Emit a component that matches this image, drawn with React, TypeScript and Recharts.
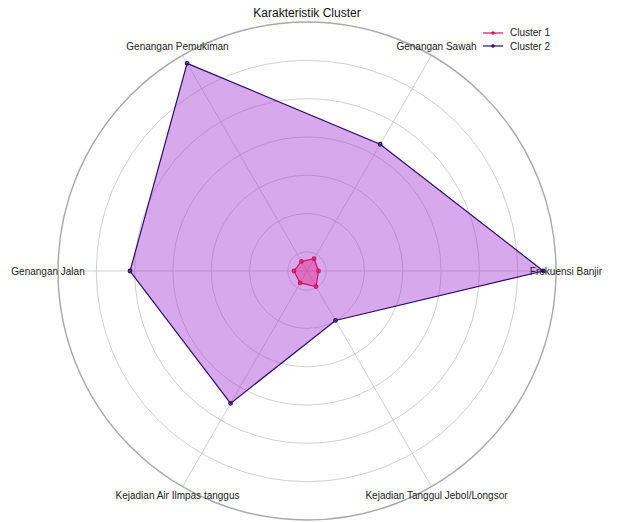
import { Legend, PolarAngleAxis, PolarGrid, PolarRadiusAxis, Radar, RadarChart } from "recharts";

const categories = [
  "Frekuensi Banjir",
  "Genangan Sawah",
  "Genangan Pemukiman",
  "Genangan Jalan",
  "Kejadian Air Ilmpas tanggus",
  "Kejadian Tanggul Jebol/Longsor",
];
const cluster1 = [-0.2, -0.13, -0.21, -0.16, -0.14, -0.03];
const cluster2 = [5.67, 3.32, 5.76, 4.12, 3.49, 0.99];
const radiusTicks = [0, 1, 2, 3, 4, 5];

const data = categories.map((name, i) => ({ name, c1: cluster1[i], c2: cluster2[i] }));

const CX = 307;
const CY = 271;
const R = 249;
const FONT = "'Liberation Sans', Arial, sans-serif";

const C1 = "#d4145f";
const C2 = "#2d0b6e";

// label sits just outside the ring, centred on its spoke (same angle as the radar vertex)
function AngleTick(props: any) {
  const { payload } = props;
  const idx = categories.indexOf(payload.value);
  const a = ((360 / categories.length) * idx * Math.PI) / 180;
  const x = CX + (R + 10) * Math.cos(a);
  const y = CY - (R + 10) * Math.sin(a);
  return (
    <text x={x} y={y} textAnchor="middle" dominantBaseline="central" fontSize={10} fontFamily={FONT} fill="#222">
      {payload.value}
    </text>
  );
}

function LegendBox() {
  const items = [
    { label: "Cluster 1", color: C1 },
    { label: "Cluster 2", color: C2 },
  ];
  return (
    <div style={{ fontFamily: FONT, fontSize: 10, color: "#222" }}>
      {items.map((it) => (
        <div key={it.label} style={{ display: "flex", alignItems: "center", height: 13.4 }}>
          <svg width={20} height={6} style={{ marginRight: 7 }}>
            <line x1={0} y1={3} x2={20} y2={3} stroke={it.color} strokeWidth={1.2} />
            <circle cx={10} cy={3} r={1.8} fill={it.color} />
          </svg>
          <span>{it.label}</span>
        </div>
      ))}
    </div>
  );
}

export default function App() {
  return (
    <div style={{ position: "absolute", left: 0, top: 0, width: 617, height: 522, background: "#fff" }}>
      <div
        style={{
          position: "absolute",
          left: 0,
          width: 614,
          top: 6,
          textAlign: "center",
          fontFamily: FONT,
          fontSize: 12,
          color: "#111",
          zIndex: 2,
        }}
      >
        Karakteristik Cluster
      </div>
      <RadarChart
        width={617}
        height={522}
        data={data}
        cx={CX}
        cy={CY}
        outerRadius={R}
        startAngle={-60}
        endAngle={300}
        margin={{ top: 0, right: 0, bottom: 0, left: 0 }}
      >
        <PolarGrid stroke="#c4c4c4" strokeWidth={0.8} gridType="circle" />
        <PolarRadiusAxis
          type="number"
          domain={[-0.5, 6]}
          ticks={radiusTicks}
          tick={false}
          axisLine={false}
        />
        <PolarAngleAxis
          dataKey="name"
          tick={<AngleTick />}
          tickLine={false}
          axisLineType="circle"
          axisLine={{ stroke: "#a8a8a8", strokeWidth: 1.4 }}
        />
        <Radar
          name="Cluster 2"
          dataKey="c2"
          stroke={C2}
          strokeWidth={1.2}
          fill="#a93ed5"
          fillOpacity={0.45}
          dot={{ r: 1.8, fill: C2, stroke: C2 }}
          isAnimationActive={false}
        />
        <Radar
          name="Cluster 1"
          dataKey="c1"
          stroke={C1}
          strokeWidth={1.2}
          fill="#e8197f"
          fillOpacity={0.4}
          dot={{ r: 1.8, fill: C1, stroke: C1 }}
          isAnimationActive={false}
        />
        <Legend
          content={<LegendBox />}
          layout="vertical"
          verticalAlign="top"
          align="right"
          wrapperStyle={{ position: "absolute", left: 483, top: 26, width: 100 }}
        />
      </RadarChart>
    </div>
  );
}
